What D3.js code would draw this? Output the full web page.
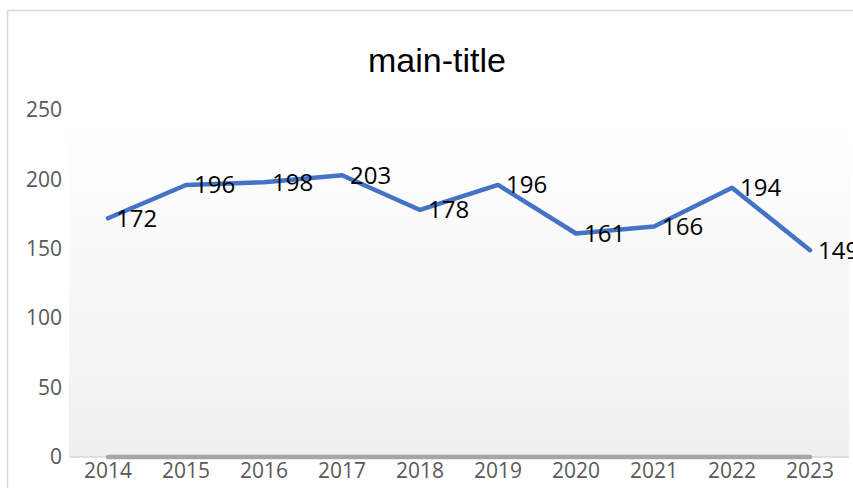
<!DOCTYPE html>
<html>
<head>
<meta charset="utf-8">
<script src="https://cdn.jsdelivr.net/npm/d3@7"></script>
<style>
  body { margin: 0; background: #fff; }
</style>
</head>
<body>
<div id="chart"></div>
<script>
// data
const years = ["2014", "2015", "2016", "2017", "2018", "2019", "2020", "2021", "2022", "2023"];
const values = [172, 196, 198, 203, 178, 196, 161, 166, 194, 149];
const baseline = [0, 0, 0, 0, 0, 0, 0, 0, 0, 0];
const yTicks = [0, 50, 100, 150, 200, 250];

const width = 853;
const height = 488;
const plot = { left: 69, right: 849, top: 122, bottom: 457 };

const svg = d3.select("#chart")
  .append("svg")
  .attr("width", width)
  .attr("height", height);

// gradient for the plot area
const grad = svg.append("defs").append("linearGradient")
  .attr("id", "bg")
  .attr("x1", 0).attr("y1", 0).attr("x2", 0).attr("y2", 1);
grad.append("stop").attr("offset", "0%").attr("stop-color", "#ffffff");
grad.append("stop").attr("offset", "100%").attr("stop-color", "#efefef");

// chart border
svg.append("rect")
  .attr("x", 7.5).attr("y", 10.5)
  .attr("width", width + 10).attr("height", height + 10)
  .attr("fill", "none")
  .attr("stroke", "#d9d9d9")
  .attr("stroke-width", 1.5);

const x = d3.scaleBand()
  .domain(years)
  .range([plot.left, plot.right]);

const y = d3.scaleLinear()
  .domain([0, 250])
  .range([plot.bottom, 110]);

svg.append("rect")
  .attr("x", plot.left).attr("y", plot.top)
  .attr("width", plot.right - plot.left)
  .attr("height", plot.bottom - plot.top)
  .attr("fill", "url(#bg)");

// title
svg.append("text")
  .attr("x", 437).attr("y", 72)
  .attr("text-anchor", "middle")
  .style("font-family", "'Liberation Sans', Arial, sans-serif")
  .style("font-size", "34px")
  .attr("fill", "#000")
  .text("main-title");

// axes
const yAxis = svg.append("g")
  .attr("transform", `translate(${plot.left},0)`)
  .call(d3.axisLeft(y).tickValues(yTicks).tickSize(0).tickPadding(7));
yAxis.select(".domain").remove();
yAxis.selectAll("text")
  .attr("fill", "#595959")
  .attr("font-size", 21)
  .style("font-size", "21px")
  .style("font-family", "'Open Sans', sans-serif");

svg.append("line")
  .attr("x1", plot.left).attr("x2", plot.right)
  .attr("y1", y(0)).attr("y2", y(0))
  .attr("stroke", "#d9d9d9")
  .attr("stroke-width", 1.5);

const xAxis = svg.append("g")
  .attr("transform", `translate(0,${plot.bottom})`)
  .call(d3.axisBottom(x).tickSize(0).tickPadding(6));
xAxis.select(".domain").remove();
xAxis.selectAll("text")
  .attr("fill", "#595959")
  .attr("font-size", 21)
  .style("font-size", "21px")
  .style("font-family", "'Open Sans', sans-serif");

const cx = (d, i) => x(years[i]) + x.bandwidth() / 2;

// zero series
svg.append("path")
  .datum(baseline)
  .attr("fill", "none")
  .attr("stroke", "#a5a5a5")
  .attr("stroke-width", 4.5)
  .attr("stroke-linecap", "round")
  .attr("d", d3.line().x(cx).y(d => y(d)));

// main series
svg.append("path")
  .datum(values)
  .attr("fill", "none")
  .attr("stroke", "#4472c4")
  .attr("stroke-width", 4.5)
  .attr("stroke-linejoin", "round")
  .attr("stroke-linecap", "round")
  .attr("d", d3.line().x(cx).y(d => y(d)));

// data labels
svg.selectAll(".lbl")
  .data(values)
  .join("text")
  .attr("class", "lbl")
  .attr("x", (d, i) => cx(d, i) + 8)
  .attr("y", d => y(d))
  .attr("dy", "0.35em")
  .attr("fill", "#000")
  .style("font-size", "24px")
  .style("font-family", "'Open Sans', sans-serif")
  .text(d => d);
</script>
</body>
</html>
